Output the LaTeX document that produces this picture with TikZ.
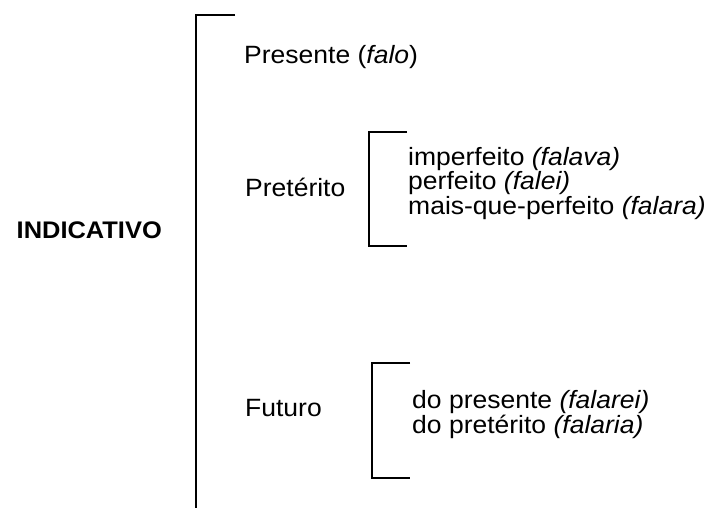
\documentclass[tikz,border=0pt]{standalone}
\usepackage{fontspec}
\setmainfont[FakeStretch=1.06]{Liberation Sans}
\setlength{\lineskiplimit}{-100pt}
\setlength{\lineskip}{0pt}
\begin{document}
\begin{tikzpicture}[x=1pt,y=-1pt,
  txt/.style={inner sep=0pt,anchor=base west,font=\fontsize{25}{24}\selectfont},
  multi/.style={inner sep=0pt,anchor=base west,align=left,font=\fontsize{25}{#1}\selectfont},
  bold/.style={inner sep=0pt,anchor=base east,font=\fontsize{24}{24}\selectfont\bfseries},
  brk/.style={line width=1.6pt,line cap=butt,line join=miter}]
\useasboundingbox (0,0) rectangle (708,508);
% main bracket
\coordinate (m1) at (235,15);
\coordinate (m2) at (196,15);
\coordinate (m3) at (196,508);
\draw[brk] (m1) -- (m2) -- (m3);
% sub bracket preterito
\coordinate (p1) at (407,132);
\coordinate (p2) at (369,132);
\coordinate (p3) at (369,246);
\coordinate (p4) at (407,246);
\draw[brk] (p1) -- (p2) -- (p3) -- (p4);
% sub bracket futuro
\coordinate (f1) at (410,363);
\coordinate (f2) at (372,363);
\coordinate (f3) at (372,478);
\coordinate (f4) at (410,478);
\draw[brk] (f1) -- (f2) -- (f3) -- (f4);
% texts
\node[bold] (ind) at (162,238) {INDICATIVO};
\node[txt] (pres) at (244,64) {Presente (\textit{falo})};
\node[txt] (pret) at (245,196) {Pretérito};
\node[txt] (fut) at (245,416) {Futuro};
\node[multi=24.5] (pretlist) at (408,214) {imperfeito \textit{(falava)}\\perfeito \textit{(falei)}\\mais-que-perfeito \textit{(falara)}};
\node[multi=24.5] (futlist) at (412,433) {do presente \textit{(falarei)}\\do pretérito \textit{(falaria)}};
\end{tikzpicture}
\end{document}
